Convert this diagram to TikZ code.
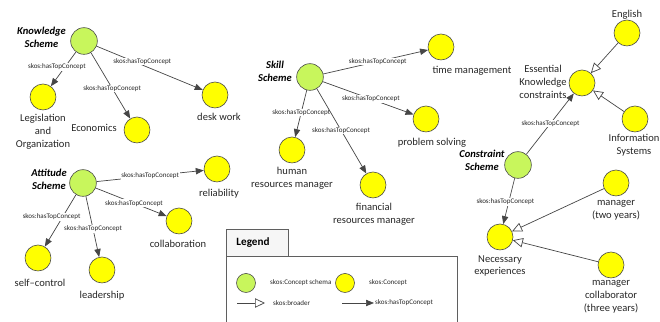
\documentclass[tikz,border=0pt]{standalone}
\usepackage{fontspec}
\setmainfont{Carlito}
\usepackage{tikz}
\usetikzlibrary{arrows.meta, positioning, calc}
\definecolor{schemegreen}{RGB}{200,246,92}
\definecolor{conceptyellow}{RGB}{255,255,0}
\definecolor{rim}{RGB}{70,70,70}
\definecolor{legline}{RGB}{95,95,95}
\tikzset{>=stealth,
  scheme/.style={circle, draw=rim, fill=schemegreen, minimum size=8mm, inner sep=0pt, line width=0.5pt},
  concept/.style={circle, draw=rim, fill=conceptyellow, minimum size=7.8mm, inner sep=0pt, line width=0.5pt},
  txt/.style={font=\fontsize{9}{11}\selectfont, align=center, text=black!85, inner sep=0pt},
  stxt/.style={font=\fontsize{9}{11}\selectfont\bfseries\itshape, align=center, inner sep=0pt},
  top/.style={draw=rim, line width=0.6pt, -{Triangle[length=2.4mm,width=1.9mm]}},
  broader/.style={draw=rim, line width=0.6pt, -{Triangle[open,length=3mm,width=2.8mm,fill=white]}},
  rel/.style={font=\fontsize{6}{7}\selectfont, fill=white, inner sep=0.6pt, text=black!85},
  ltxt/.style={font=\fontsize{6}{7}\selectfont, anchor=west, inner sep=0pt, text=black!85}
}

\begin{document}
\begin{tikzpicture}[x=0.3mm, y=-0.3mm]
  \path[use as bounding box, clip] (0,0) rectangle (660,322);

  % knowledge scheme
  \node[scheme] (ks) at (84,41) {};
  \node[stxt] (ks-t) at (41.5,37) {Knowledge\\Scheme};
  \node[concept] (leg) at (43,97) {};
  \node[txt] (leg-t) at (43,132) {Legislation\\and\\Organization};
  \node[concept] (eco) at (137,130) {};
  \node[txt] (eco-t) at (94,128) {Economics};
  \node[concept] (desk) at (215,95) {};
  \node[txt] (desk-t) at (219,117) {desk work};

  \draw[top] (ks) -- node[rel, pos=.44, xshift=-2.4mm] {skos:hasTopConcept} (leg);
  \draw[top] (ks) -- node[rel, pos=.54] {skos:hasTopConcept} (eco);
  \draw[top] (ks) -- node[rel, pos=.43, yshift=1mm] {skos:hasTopConcept} (desk);

  % attitude scheme
  \node[scheme] (as) at (83,183) {};
  \node[stxt] (as-t) at (49,179) {Attitude\\Scheme};
  \node[concept] (rel) at (217,169) {};
  \node[txt] (rel-t) at (219,194) {reliability};
  \node[concept] (col) at (179,221) {};
  \node[txt] (col-t) at (178,244) {collaboration};
  \node[concept] (self) at (38,258) {};
  \node[txt] (self-t) at (40,283) {self--control};
  \node[concept] (lead) at (102,270) {};
  \node[txt] (lead-t) at (102,296) {leadership};

  \draw[top] (as) -- node[rel, pos=.5] {skos:hasTopConcept} (rel);
  \draw[top] (as) -- node[rel, pos=.54] {skos:hasTopConcept} (col);
  \draw[top] (as) -- node[rel, pos=.43, xshift=-3.3mm] {skos:hasTopConcept} (self);
  \draw[top] (as) -- node[rel, pos=.54] {skos:hasTopConcept} (lead);

  % skill scheme
  \node[scheme] (ss) at (310,77) {};
  \node[stxt] (ss-t) at (275,71) {Skill\\Scheme};
  \node[concept] (time) at (441,47) {};
  \node[txt] (time-t) at (472,71) {time management};
  \node[concept] (prob) at (426,119) {};
  \node[txt] (prob-t) at (432,143) {problem solving};
  \node[concept] (hum) at (292,150) {};
  \node[txt] (hum-t) at (292,178) {human\\resources manager};
  \node[concept] (fin) at (373,185) {};
  \node[txt] (fin-t) at (374,214) {financial\\resources manager};

  \draw[top] (ss) -- node[rel, pos=.52] {skos:hasTopConcept} (time);
  \draw[top] (ss) -- node[rel, pos=.53] {skos:hasTopConcept} (prob);
  \draw[top] (ss) -- node[rel, pos=.47] {skos:hasTopConcept} (hum);
  \draw[top] (ss) -- node[rel, pos=.49] {skos:hasTopConcept} (fin);

  % constraint scheme
  \node[scheme] (cs) at (518,165) {};
  \node[stxt] (cs-t) at (482,160) {Constraint\\Scheme};
  \node[concept] (ess) at (582,83) {};
  \node[txt] (ess-t) at (543,82) {Essential\\Knowledge\\constraints};
  \node[concept] (eng) at (627,33) {};
  \node[txt] (eng-t) at (627,15) {English};
  \node[concept] (info) at (635,119) {};
  \node[txt] (info-t) at (634,145) {Information\\Systems};
  \node[concept] (nec) at (500,237) {};
  \node[txt] (nec-t) at (500,266) {Necessary\\experiences};
  \node[concept] (mgr2) at (616,183) {};
  \node[txt] (mgr2-t) at (616,210) {manager\\(two years)};
  \node[concept] (mgr3) at (611,265) {};
  \node[txt] (mgr3-t) at (611,297) {manager\\collaborator\\(three years)};

  \draw[top] (cs) -- node[rel, pos=.51] {skos:hasTopConcept} (ess);
  \draw[top] (cs) -- node[rel, pos=.52, xshift=-1mm] {skos:hasTopConcept} (nec);
  \draw[broader] (eng) -- (ess);
  \draw[broader] (info) -- (ess);
  \draw[broader] (mgr2) -- (nec);
  \draw[broader] (mgr3) -- (nec);

  % legend
  \draw[legline, line width=0.6pt, fill=gray!7] (226,229) rectangle (288,256);
  \node[font=\fontsize{9.5}{11}\selectfont\bfseries, inner sep=0pt] (leg-title) at (253,243) {Legend};
  \draw[legline, line width=0.6pt] (226,256) rectangle (457,340);
  \node[scheme, minimum size=5.7mm] (key-s) at (246,283) {};
  \node[ltxt] (key-s-t) at (270,283) {skos:Concept schema};
  \node[concept, minimum size=5.7mm] (key-c) at (345,283) {};
  \node[ltxt] (key-c-t) at (369,283) {skos:Concept};
  \coordinate (b1) at (237,303);
  \coordinate (b2) at (265,303);
  \draw[broader] (b1) -- (b2);
  \node[ltxt] (b-t) at (273,303) {skos:broader};
  \coordinate (h1) at (342,303);
  \coordinate (h2) at (374,303);
  \draw[top] (h1) -- (h2);
  \node[ltxt] (h-t) at (375,303) {skos:hasTopConcept};
\end{tikzpicture}
\end{document}
